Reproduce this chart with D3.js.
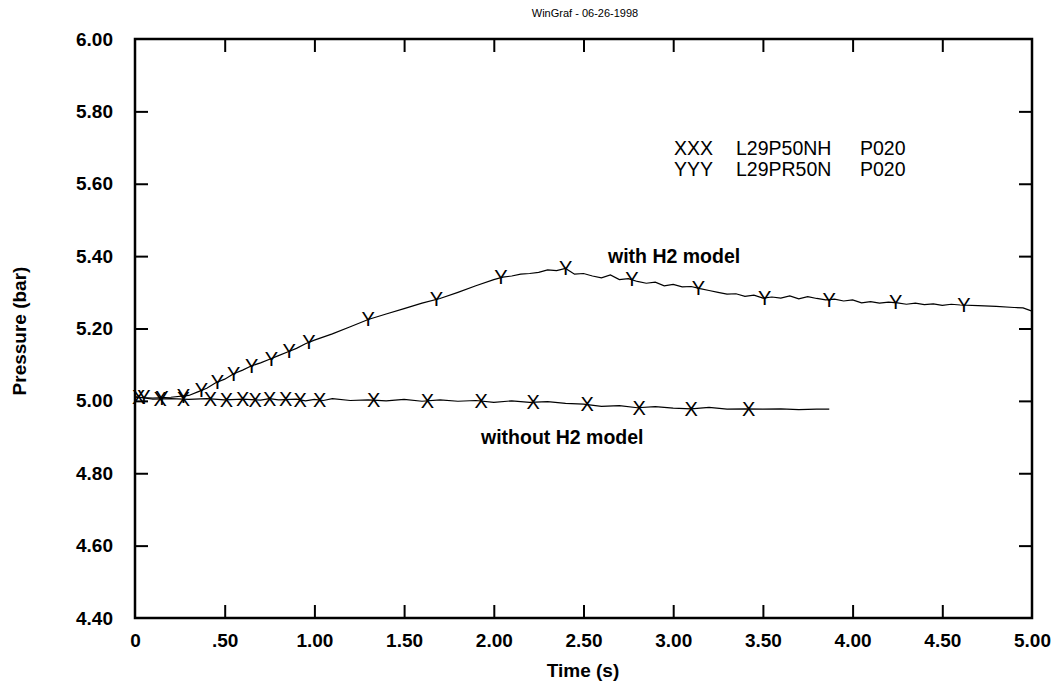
<!DOCTYPE html>
<html>
<head>
<meta charset="utf-8">
<script src="https://cdn.jsdelivr.net/npm/d3@7"></script>
<style>
  body { margin: 0; background: #fff; }
  text { font-family: "Liberation Sans", Arial, sans-serif; fill: #000; }
  .tick-label { font-size: 19px; font-weight: bold; }
  .axis-label { font-size: 19px; font-weight: bold; }
  .note { font-size: 19.5px; font-weight: bold; }
  .legend { font-size: 19.5px; }
  .marker { font-size: 20px; }
  .title { font-size: 11px; font-family: "Liberation Sans Narrow", "Arial Narrow", sans-serif; }
</style>
</head>
<body>
<svg width="1056" height="686"></svg>
<script>
// with H2 model (YYY)
const withT = [0, 0.1, 0.2, 0.3, 0.35, 0.4, 0.45, 0.5, 0.55, 0.6, 0.65, 0.7, 0.75, 0.8, 0.85, 0.9, 0.95, 1.0,
  1.1, 1.2, 1.3, 1.4, 1.5, 1.6, 1.7, 1.8, 1.9, 2.0, 2.05, 2.1, 2.15, 2.2, 2.25, 2.3, 2.35, 2.4, 2.45, 2.5,
  2.55, 2.6, 2.65, 2.7, 2.75, 2.8, 2.85, 2.9, 2.95, 3.0, 3.05, 3.1, 3.15, 3.2, 3.25, 3.3, 3.35, 3.4, 3.45,
  3.5, 3.55, 3.6, 3.65, 3.7, 3.75, 3.8, 3.85, 3.9, 3.95, 4.0, 4.05, 4.1, 4.15, 4.2, 4.25, 4.3, 4.35, 4.4,
  4.45, 4.5, 4.55, 4.6, 4.7, 4.8, 4.9, 4.95, 5.0]
const withP = [5.010, 5.008, 5.010, 5.015, 5.025, 5.035, 5.050, 5.060, 5.075, 5.085, 5.097, 5.105, 5.115,
  5.125, 5.135, 5.145, 5.158, 5.168, 5.185, 5.205, 5.225, 5.240, 5.255, 5.270, 5.283, 5.300, 5.318, 5.335,
  5.342, 5.345, 5.350, 5.352, 5.355, 5.362, 5.360, 5.366, 5.350, 5.352, 5.345, 5.340, 5.348, 5.335, 5.338,
  5.330, 5.325, 5.328, 5.318, 5.322, 5.315, 5.316, 5.310, 5.305, 5.300, 5.295, 5.296, 5.289, 5.292, 5.284,
  5.287, 5.284, 5.290, 5.282, 5.288, 5.283, 5.279, 5.281, 5.276, 5.279, 5.271, 5.274, 5.270, 5.273, 5.271,
  5.267, 5.270, 5.266, 5.268, 5.264, 5.267, 5.265, 5.263, 5.261, 5.258, 5.257, 5.248]

// without H2 model (XXX)
const withoutT = [0, 0.05, 0.1, 0.2, 0.3, 0.4, 0.5, 0.6, 0.7, 0.75, 0.8, 0.9, 0.95, 1.0, 1.05, 1.1, 1.2, 1.3,
  1.4, 1.5, 1.6, 1.7, 1.8, 1.9, 2.0, 2.1, 2.2, 2.3, 2.4, 2.5, 2.6, 2.7, 2.8, 2.9, 3.0, 3.1, 3.2, 3.3, 3.4,
  3.5, 3.6, 3.7, 3.8, 3.87]
const withoutP = [5.012, 5.008, 5.005, 5.006, 5.004, 5.006, 5.003, 5.005, 5.002, 5.006, 5.003, 5.005, 5.000,
  5.004, 5.001, 5.006, 5.001, 5.003, 5.000, 5.004, 4.999, 5.003, 4.999, 5.001, 4.996, 5.000, 4.996, 4.998,
  4.993, 4.991, 4.985, 4.987, 4.981, 4.984, 4.980, 4.978, 4.982, 4.977, 4.978, 4.977, 4.978, 4.976, 4.977, 4.977]

// symbol positions
const yMarkT = [0.05, 0.15, 0.27, 0.37, 0.46, 0.55, 0.65, 0.76, 0.86, 0.97, 1.30, 1.68, 2.04, 2.40, 2.77, 3.14, 3.51, 3.87, 4.24, 4.62]
const yMarkP = [5.010, 5.008, 5.013, 5.030, 5.053, 5.075, 5.097, 5.117, 5.137, 5.162, 5.225, 5.281, 5.341, 5.366, 5.336, 5.311, 5.285, 5.279, 5.272, 5.265]
const xMarkT = [0.02, 0.14, 0.27, 0.42, 0.51, 0.60, 0.67, 0.75, 0.84, 0.92, 1.03, 1.33, 1.63, 1.93, 2.22, 2.52, 2.81, 3.10, 3.42]
const xMarkP = [5.010, 5.005, 5.004, 5.005, 5.003, 5.004, 5.002, 5.005, 5.004, 5.003, 5.002, 5.002, 5.000, 5.000, 4.997, 4.990, 4.981, 4.978, 4.978]

const xTicks = [0, 0.5, 1, 1.5, 2, 2.5, 3, 3.5, 4, 4.5, 5]
const xTickLabels = ['0', '.50', '1.00', '1.50', '2.00', '2.50', '3.00', '3.50', '4.00', '4.50', '5.00']
const yTicks = [4.4, 4.6, 4.8, 5.0, 5.2, 5.4, 5.6, 5.8, 6.0]

const svg = d3.select('svg')
const margin = { top: 39, right: 24, bottom: 68, left: 135 }
const width = +svg.attr('width')
const height = +svg.attr('height')
const innerWidth = width - margin.left - margin.right
const innerHeight = height - margin.top - margin.bottom

const xScale = d3.scaleLinear().domain([0, 5]).range([0, innerWidth])
const yScale = d3.scaleLinear().domain([4.4, 6.0]).range([innerHeight, 0])

const g = svg.append('g')
  .attr('transform', `translate(${margin.left}, ${margin.top})`)

svg.append('text')
  .attr('class', 'title')
  .attr('x', 585)
  .attr('y', 17)
  .attr('text-anchor', 'middle')
  .text('WinGraf  - 06-26-1998')

// axes with inward ticks
const tickLen = 13
const styleAxis = (sel) => {
  sel.select('.domain').remove()
  sel.selectAll('.tick line').attr('stroke', '#000').attr('stroke-width', 2)
  sel.selectAll('.tick text').attr('class', 'tick-label')
}

const bottomAxis = g.append('g')
  .attr('transform', `translate(0, ${innerHeight})`)
  .call(d3.axisBottom(xScale).tickValues(xTicks)
    .tickFormat((d, i) => xTickLabels[i])
    .tickSizeInner(-tickLen).tickSizeOuter(0).tickPadding(16))
styleAxis(bottomAxis)
bottomAxis.selectAll('.tick line').filter(d => d === 0 || d === 5).remove()

const topAxis = g.append('g')
  .call(d3.axisTop(xScale).tickValues(xTicks.slice(1, -1))
    .tickFormat('').tickSizeInner(-tickLen).tickSizeOuter(0))
styleAxis(topAxis)

const leftAxis = g.append('g')
  .call(d3.axisLeft(yScale).tickValues(yTicks)
    .tickFormat(d3.format('.2f'))
    .tickSizeInner(-tickLen).tickSizeOuter(0).tickPadding(22))
styleAxis(leftAxis)
leftAxis.selectAll('.tick line').filter(d => d === 4.4 || d === 6.0).remove()

const rightAxis = g.append('g')
  .attr('transform', `translate(${innerWidth}, 0)`)
  .call(d3.axisRight(yScale).tickValues(yTicks.slice(1, -1))
    .tickFormat('').tickSizeInner(-tickLen).tickSizeOuter(0))
styleAxis(rightAxis)

g.append('rect')
  .attr('width', innerWidth)
  .attr('height', innerHeight)
  .attr('fill', 'none')
  .attr('stroke', '#000')
  .attr('stroke-width', 2.5)

g.append('text')
  .attr('class', 'axis-label')
  .attr('x', 583 - margin.left)
  .attr('y', innerHeight + 59)
  .attr('text-anchor', 'middle')
  .text('Time (s)')

g.append('text')
  .attr('class', 'axis-label')
  .attr('transform', 'rotate(-90)')
  .attr('x', -(331 - margin.top))
  .attr('y', -109)
  .attr('text-anchor', 'middle')
  .text('Pressure (bar)')

// curves
const line = d3.line()
  .x(d => xScale(d[0]))
  .y(d => yScale(d[1]))

g.append('path')
  .attr('d', line(d3.zip(withT, withP)))
  .attr('fill', 'none')
  .attr('stroke', '#000')
  .attr('stroke-width', 1.2)

g.append('path')
  .attr('d', line(d3.zip(withoutT, withoutP)))
  .attr('fill', 'none')
  .attr('stroke', '#000')
  .attr('stroke-width', 1.2)

const drawMarks = (ts, ps, ch) => {
  g.selectAll(null)
    .data(d3.zip(ts, ps))
    .join('text')
    .attr('class', 'marker')
    .attr('x', d => xScale(d[0]))
    .attr('y', d => yScale(d[1]) + 7)
    .attr('text-anchor', 'middle')
    .text(ch)
}
drawMarks(xMarkT, xMarkP, 'X')
drawMarks(yMarkT, yMarkP, 'Y')

// annotations
g.append('text').attr('class', 'note')
  .attr('x', 608 - margin.left).attr('y', 263 - margin.top)
  .text('with H2 model')
g.append('text').attr('class', 'note')
  .attr('x', 481 - margin.left).attr('y', 444 - margin.top)
  .text('without H2 model')

const legendRows = [['XXX', 'L29P50NH', 'P020'], ['YYY', 'L29PR50N', 'P020']]
const legendCols = [674, 736, 860]
legendRows.forEach((row, i) => {
  row.forEach((s, j) => {
    svg.append('text').attr('class', 'legend')
      .attr('x', legendCols[j])
      .attr('y', 155 + i * 21)
      .text(s)
  })
})
</script>
</body>
</html>
